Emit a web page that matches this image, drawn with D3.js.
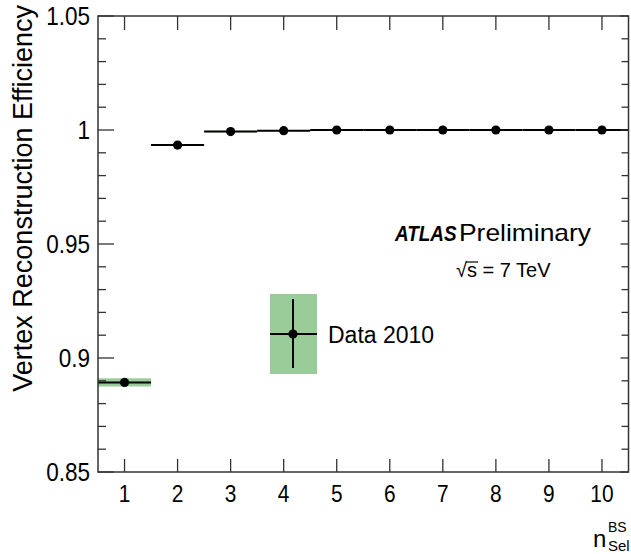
<!DOCTYPE html>
<html>
<head>
<meta charset="utf-8">
<script src="https://cdn.jsdelivr.net/npm/d3@7"></script>
<style>
  body { margin: 0; background: #fff; }
  text { font-family: "Liberation Sans", Arial, Helvetica, sans-serif; fill: #000; }
</style>
</head>
<body>
<svg id="chart" width="631" height="554"></svg>
<script>
// n_Sel^BS bins and measured efficiency
let nSel = [1, 2, 3, 4, 5, 6, 7, 8, 9, 10];
let efficiency = [0.8893, 0.9934, 0.9993, 0.9997, 1.0, 1.0, 1.0, 1.0, 1.0, 1.0];
let systErr = [0.0018, 0.0004, 0.0003, 0.0002, 0.0001, 0.0001, 0.0001, 0.0001, 0.0001, 0.0001];
let yTicks = [0.85, 0.9, 0.95, 1, 1.05];
let xTicks = [1, 2, 3, 4, 5, 6, 7, 8, 9, 10];

let margin = ({top: 16, right: 2, bottom: 82, left: 98});
let width = 631, height = 554;
let bandColor = "#99cc99";
let axisColor = "#333";

let svg = d3.select("#chart");

let xScale = d3.scaleLinear()
    .domain([0.5, 10.5])
    .range([margin.left, width - margin.right - 0.5]);

let yScale = d3.scaleLinear()
    .domain([0.85, 1.05])
    .range([height - margin.bottom, margin.top]);

let data = nSel.map((d, i) => ({n: d, eff: efficiency[i], syst: systErr[i]}));

// systematic bands
svg.append("g")
    .selectAll("rect")
    .data(data)
    .enter()
    .append("rect")
    .attr("x", d => xScale(d.n - 0.5))
    .attr("width", d => xScale(d.n + 0.5) - xScale(d.n - 0.5))
    .attr("y", d => yScale(d.eff + d.syst))
    .attr("height", d => yScale(d.eff - d.syst) - yScale(d.eff + d.syst))
    .attr("fill", bandColor);

// horizontal bin-width bars
svg.append("g")
    .selectAll("line")
    .data(data)
    .enter()
    .append("line")
    .attr("x1", d => xScale(d.n - 0.5))
    .attr("x2", d => xScale(d.n + 0.5))
    .attr("y1", d => yScale(d.eff))
    .attr("y2", d => yScale(d.eff))
    .attr("stroke", "#000")
    .attr("stroke-width", 2);

svg.append("g")
    .selectAll("circle")
    .data(data)
    .enter()
    .append("circle")
    .attr("cx", d => xScale(d.n))
    .attr("cy", d => yScale(d.eff))
    .attr("r", 4.6)
    .attr("fill", "#000");

// frame
let x0 = xScale.range()[0], x1 = xScale.range()[1];
let y0 = yScale.range()[0], y1 = yScale.range()[1];
svg.append("rect")
    .attr("x", x0).attr("y", y1)
    .attr("width", x1 - x0).attr("height", y0 - y1)
    .attr("fill", "none")
    .attr("stroke", axisColor)
    .attr("stroke-width", 1.5);

// y ticks (major + minor) on left and right
let yMinor = d3.range(0, 21).map(i => 0.85 + i * 0.01);
let tickG = svg.append("g").attr("stroke", axisColor).attr("stroke-width", 1.3);
yMinor.forEach(function(v) {
    let major = yTicks.some(t => Math.abs(t - v) < 1e-6);
    let len = major ? 16 : 8;
    let y = yScale(v);
    tickG.append("line").attr("x1", x0).attr("x2", x0 + len).attr("y1", y).attr("y2", y);
    tickG.append("line").attr("x1", x1).attr("x2", x1 - (major ? 8 : 7)).attr("y1", y).attr("y2", y);
});

// x ticks on bottom and top
xTicks.forEach(function(v) {
    let x = xScale(v);
    tickG.append("line").attr("x1", x).attr("x2", x).attr("y1", y0).attr("y2", y0 - 13);
    tickG.append("line").attr("x1", x).attr("x2", x).attr("y1", y1).attr("y2", y1 + 14);
});

// tick labels, a bit narrow like the ROOT font
svg.append("g")
    .selectAll("text")
    .data(yTicks)
    .enter()
    .append("text")
    .attr("transform", d => "translate(" + (x0 - 8) + "," + (yScale(d) + 9) + ") scale(0.9,1)")
    .attr("text-anchor", "end")
    .style("font-size", "25px")
    .text(d => d3.format("~g")(d));

svg.append("g")
    .selectAll("text")
    .data(xTicks)
    .enter()
    .append("text")
    .attr("transform", d => "translate(" + xScale(d) + "," + (y0 + 30) + ") scale(0.87,1)")
    .attr("text-anchor", "middle")
    .style("font-size", "24px")
    .text(d => d);

// axis titles
svg.append("text")
    .attr("transform", "translate(32,5) rotate(-90)")
    .attr("text-anchor", "end")
    .style("font-size", "27px")
    .text("Vertex Reconstruction Efficiency");

svg.append("text")
    .attr("x", 593)
    .attr("y", 547)
    .style("font-size", "24px")
    .text("n");
svg.append("text").attr("x", 608).attr("y", 532).style("font-size", "14px").text("BS");
svg.append("text").attr("x", 608).attr("y", 551).style("font-size", "15px").text("Sel");

// ATLAS label
svg.append("text")
    .attr("transform", "translate(395,241) scale(0.86,1)")
    .style("font-size", "22px")
    .style("font-weight", "bold")
    .style("font-style", "italic")
    .text("ATLAS");
svg.append("text")
    .attr("x", 459).attr("y", 241)
    .style("font-size", "24px")
    .attr("textLength", 132)
    .attr("lengthAdjust", "spacingAndGlyphs")
    .text("Preliminary");
svg.append("text")
    .attr("x", 456).attr("y", 277)
    .style("font-size", "20px")
    .text("\u221As = 7 TeV");
svg.append("line")
    .attr("x1", 466).attr("x2", 478)
    .attr("y1", 262).attr("y2", 262)
    .attr("stroke", "#000").attr("stroke-width", 1.2);

// legend
let lg = svg.append("g").attr("transform", "translate(293,334)");
lg.append("rect")
    .attr("x", -23).attr("y", -40)
    .attr("width", 47).attr("height", 80)
    .attr("fill", bandColor);
lg.append("line").attr("x1", -23).attr("x2", 24).attr("y1", 0).attr("y2", 0)
    .attr("stroke", "#000").attr("stroke-width", 2);
lg.append("line").attr("x1", 0).attr("x2", 0).attr("y1", -35).attr("y2", 34)
    .attr("stroke", "#000").attr("stroke-width", 2);
lg.append("circle").attr("r", 4.6).attr("fill", "#000");
lg.append("text")
    .attr("x", 35).attr("y", 9)
    .style("font-size", "23px")
    .text("Data 2010");
</script>
</body>
</html>
